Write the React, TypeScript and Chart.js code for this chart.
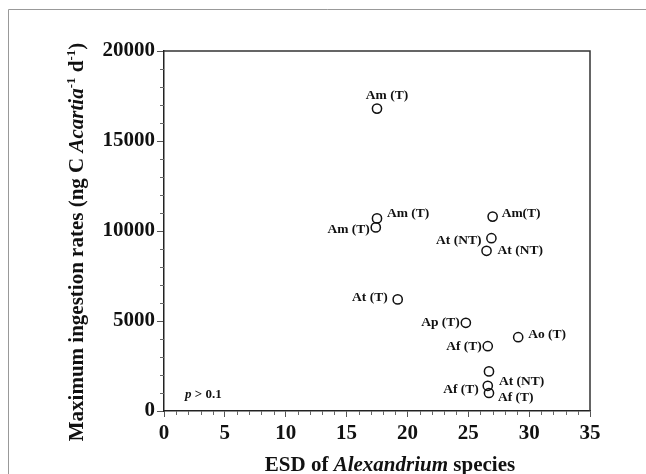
import React, { useEffect, useRef } from "react";
import { Chart, registerables } from "chart.js";

Chart.register(...registerables);

// ---- data ----
const esd: number[] = [17.5, 17.5, 17.4, 27.0, 26.9, 26.5, 19.2, 24.8, 29.1, 26.6, 26.7, 26.6, 26.7];
const maxIngestion: number[] = [16800, 10700, 10200, 10800, 9600, 8900, 6200, 4900, 4100, 3600, 2200, 1400, 1000];
const pointLabels: string[] = [
  "Am (T)", "Am (T)", "Am (T)", "Am(T)", "At (NT)", "At (NT)", "At (T)",
  "Ap (T)", "Ao (T)", "Af (T)", "At (NT)", "Af (T)", "Af (T)",
];
const xTicks: number[] = [0, 5, 10, 15, 20, 25, 30, 35];
const yTicks: number[] = [0, 5000, 10000, 15000, 20000];

// label placement (layout only): side and pixel nudges
const labelSide: string[] = ["above", "right", "left", "right", "left", "right", "left", "left", "right", "left", "right", "left", "right"];
const labelDx: number[] = [10, 10, -6, 9, -10, 11, -10, -6, 10, -6, 10, -9, 9];
const labelDy: number[] = [-13, -5, 2, -3, 2, 0, -2, 0, -3, 0, 10.5, 4, 4.5];

const SERIF = '"Liberation Serif", "Times New Roman", serif';

type Seg = { t: string; f: string; dy?: number };

function drawSegs(ctx: CanvasRenderingContext2D, segs: Seg[], cx: number, y: number) {
  let total = 0;
  for (const s of segs) {
    ctx.font = s.f;
    total += ctx.measureText(s.t).width;
  }
  let x = cx - total / 2;
  for (const s of segs) {
    ctx.font = s.f;
    ctx.fillText(s.t, x, y + (s.dy || 0));
    x += ctx.measureText(s.t).width;
  }
}

const decorPlugin = {
  id: "decor",
  afterDraw(chart: any) {
    const ctx: CanvasRenderingContext2D = chart.ctx;
    const { left, right, top, bottom } = chart.chartArea;
    const xs = chart.scales.x;
    const ys = chart.scales.y;
    ctx.save();

    // outer frame
    ctx.strokeStyle = "#999";
    ctx.lineWidth = 1;
    ctx.beginPath();
    ctx.moveTo(8.5, 474);
    ctx.lineTo(8.5, 9.5);
    ctx.lineTo(646, 9.5);
    ctx.stroke();

    // plot box top & right
    ctx.strokeStyle = "#333";
    ctx.lineWidth = 1.5;
    ctx.beginPath();
    ctx.moveTo(left, top);
    ctx.lineTo(right, top);
    ctx.lineTo(right, bottom);
    ctx.stroke();

    // minor ticks
    ctx.strokeStyle = "#666";
    ctx.lineWidth = 1;
    ctx.beginPath();
    for (let v = 0; v <= 20000; v += 1000) {
      if (v % 5000 === 0) continue;
      const py = Math.round(ys.getPixelForValue(v)) + 0.5;
      ctx.moveTo(left - 4, py);
      ctx.lineTo(left, py);
    }
    for (let v = 0; v <= 35; v += 1) {
      if (v % 5 === 0) continue;
      const px = Math.round(xs.getPixelForValue(v)) + 0.5;
      ctx.moveTo(px, bottom);
      ctx.lineTo(px, bottom + 4);
    }
    ctx.stroke();

    // point labels
    ctx.fillStyle = "#111";
    ctx.font = `bold 13.5px ${SERIF}`;
    ctx.textBaseline = "middle";
    for (let i = 0; i < esd.length; i++) {
      const px = xs.getPixelForValue(esd[i]);
      const py = ys.getPixelForValue(maxIngestion[i]);
      const side = labelSide[i];
      ctx.textAlign = side === "above" ? "center" : side === "left" ? "right" : "left";
      ctx.fillText(pointLabels[i], px + labelDx[i], py + labelDy[i]);
    }

    // p-value
    ctx.textAlign = "left";
    ctx.textBaseline = "alphabetic";
    ctx.font = `italic bold 13px ${SERIF}`;
    const px0 = left + 21;
    const py0 = bottom - 13;
    ctx.fillText("p", px0, py0);
    const pw = ctx.measureText("p").width;
    ctx.font = `bold 13px ${SERIF}`;
    ctx.fillText(" > 0.1", px0 + pw, py0);

    // x title
    ctx.fillStyle = "#111";
    const bf = `bold 21px ${SERIF}`;
    const bif = `italic bold 21px ${SERIF}`;
    const sup = `bold 13px ${SERIF}`;
    drawSegs(
      ctx,
      [
        { t: "ESD of ", f: bf },
        { t: "Alexandrium", f: bif },
        { t: " species", f: bf },
      ],
      (left + right) / 2 + 13,
      bottom + 59.5
    );

    // y title
    ctx.save();
    ctx.translate(83, 242);
    ctx.rotate(-Math.PI / 2);
    drawSegs(
      ctx,
      [
        { t: "Maximum ingestion rates (ng C ", f: bf },
        { t: "Acartia", f: bif },
        { t: "-1", f: sup, dy: -8 },
        { t: " d", f: bf },
        { t: "-1", f: sup, dy: -8 },
        { t: ")", f: bf },
      ],
      0,
      0
    );
    ctx.restore();

    ctx.restore();
  },
};

export default function App() {
  const ref = useRef<HTMLCanvasElement | null>(null);
  useEffect(() => {
    if (!ref.current) return;
    const tickFont = { family: SERIF, size: 21, weight: "bold" as const };
    const chart = new Chart(ref.current, {
      type: "scatter",
      data: {
        datasets: [
          {
            data: esd.map((x, i) => ({ x, y: maxIngestion[i] })),
            pointRadius: 4.6,
            pointBorderWidth: 1.5,
            pointBorderColor: "#111",
            pointBackgroundColor: "rgba(0,0,0,0)",
            clip: false as any,
          },
        ],
      },
      options: {
        animation: false,
        responsive: false,
        events: [],
        layout: { padding: { left: 0, top: 51, right: 56, bottom: 0 } },
        plugins: { legend: { display: false }, tooltip: { enabled: false } },
        scales: {
          x: {
            type: "linear",
            min: 0,
            max: 35,
            afterFit: (s: any) => {
              s.height = 63;
            },
            afterBuildTicks: (s: any) => {
              s.ticks = xTicks.map((v) => ({ value: v }));
            },
            ticks: { font: tickFont, color: "#111", padding: 4 },
            grid: { drawOnChartArea: false, tickLength: 6, color: "#555", tickWidth: 1 },
            border: { color: "#222", width: 1.5 },
          },
          y: {
            type: "linear",
            min: 0,
            max: 20000,
            afterFit: (s: any) => {
              s.width = 164;
            },
            afterBuildTicks: (s: any) => {
              s.ticks = yTicks.map((v) => ({ value: v }));
            },
            ticks: { font: tickFont, color: "#111", padding: 2, callback: (v: any) => String(v) },
            grid: { drawOnChartArea: false, tickLength: 7, color: "#555", tickWidth: 1 },
            border: { color: "#222", width: 1.5 },
          },
        },
      },
      plugins: [decorPlugin],
    });
    return () => chart.destroy();
  }, []);
  return (
    <div style={{ position: "fixed", left: 0, top: 0, width: 646, height: 474, background: "#fff" }}>
      <canvas ref={ref} width={646} height={474} style={{ display: "block" }} />
    </div>
  );
}
